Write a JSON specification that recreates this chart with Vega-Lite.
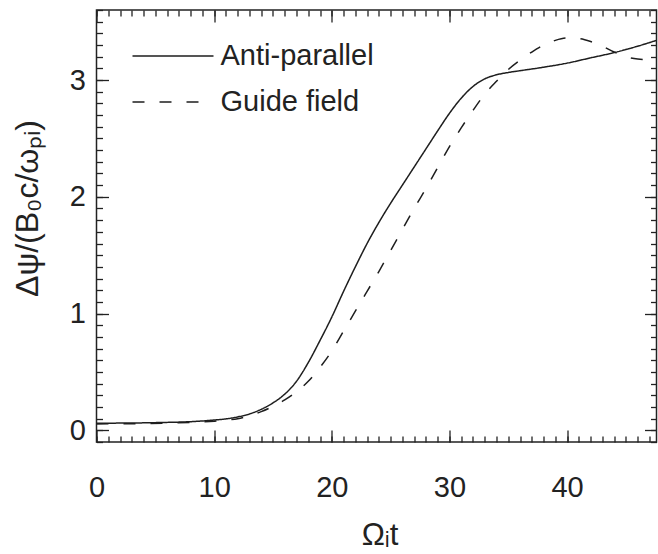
{
  "$schema": "https://vega.github.io/schema/vega-lite/v6.json",
  "width": 560,
  "height": 432,
  "autosize": {"type": "none"},
  "padding": {"left": 96.5, "top": 10, "right": 1.5, "bottom": 112},
  "background": "white",
  "config": {
    "font": "Liberation Sans",
    "view": {"stroke": "#222", "strokeWidth": 1.5},
    "axis": {
      "domain": false,
      "grid": false,
      "tickColor": "#222",
      "tickWidth": 1.3,
      "labelColor": "#222",
      "labelFont": "Liberation Sans",
      "labelFontSize": 29,
      "titleFont": "Liberation Sans",
      "titleFontWeight": "normal",
      "titleColor": "#222"
    }
  },
  "data": {
    "values": [
      {"t": 0, "v": 0.060, "series": "Anti-parallel"},
      {"t": 2, "v": 0.062, "series": "Anti-parallel"},
      {"t": 4, "v": 0.064, "series": "Anti-parallel"},
      {"t": 6, "v": 0.068, "series": "Anti-parallel"},
      {"t": 8, "v": 0.074, "series": "Anti-parallel"},
      {"t": 10, "v": 0.088, "series": "Anti-parallel"},
      {"t": 11, "v": 0.098, "series": "Anti-parallel"},
      {"t": 12, "v": 0.115, "series": "Anti-parallel"},
      {"t": 13, "v": 0.14, "series": "Anti-parallel"},
      {"t": 14, "v": 0.18, "series": "Anti-parallel"},
      {"t": 15, "v": 0.235, "series": "Anti-parallel"},
      {"t": 16, "v": 0.31, "series": "Anti-parallel"},
      {"t": 17, "v": 0.42, "series": "Anti-parallel"},
      {"t": 18, "v": 0.58, "series": "Anti-parallel"},
      {"t": 19, "v": 0.77, "series": "Anti-parallel"},
      {"t": 20, "v": 0.97, "series": "Anti-parallel"},
      {"t": 21, "v": 1.19, "series": "Anti-parallel"},
      {"t": 22, "v": 1.40, "series": "Anti-parallel"},
      {"t": 23, "v": 1.60, "series": "Anti-parallel"},
      {"t": 24, "v": 1.78, "series": "Anti-parallel"},
      {"t": 25, "v": 1.945, "series": "Anti-parallel"},
      {"t": 26, "v": 2.10, "series": "Anti-parallel"},
      {"t": 27, "v": 2.255, "series": "Anti-parallel"},
      {"t": 28, "v": 2.41, "series": "Anti-parallel"},
      {"t": 29, "v": 2.565, "series": "Anti-parallel"},
      {"t": 30, "v": 2.715, "series": "Anti-parallel"},
      {"t": 31, "v": 2.845, "series": "Anti-parallel"},
      {"t": 32, "v": 2.945, "series": "Anti-parallel"},
      {"t": 33, "v": 3.01, "series": "Anti-parallel"},
      {"t": 34, "v": 3.045, "series": "Anti-parallel"},
      {"t": 35, "v": 3.065, "series": "Anti-parallel"},
      {"t": 36, "v": 3.08, "series": "Anti-parallel"},
      {"t": 38, "v": 3.11, "series": "Anti-parallel"},
      {"t": 40, "v": 3.145, "series": "Anti-parallel"},
      {"t": 42, "v": 3.19, "series": "Anti-parallel"},
      {"t": 44, "v": 3.235, "series": "Anti-parallel"},
      {"t": 46, "v": 3.29, "series": "Anti-parallel"},
      {"t": 47.6, "v": 3.34, "series": "Anti-parallel"},
      {"t": 0, "v": 0.055, "series": "Guide field"},
      {"t": 2, "v": 0.056, "series": "Guide field"},
      {"t": 4, "v": 0.058, "series": "Guide field"},
      {"t": 6, "v": 0.062, "series": "Guide field"},
      {"t": 8, "v": 0.068, "series": "Guide field"},
      {"t": 10, "v": 0.078, "series": "Guide field"},
      {"t": 11, "v": 0.088, "series": "Guide field"},
      {"t": 12, "v": 0.10, "series": "Guide field"},
      {"t": 13, "v": 0.125, "series": "Guide field"},
      {"t": 14, "v": 0.16, "series": "Guide field"},
      {"t": 15, "v": 0.205, "series": "Guide field"},
      {"t": 16, "v": 0.26, "series": "Guide field"},
      {"t": 17, "v": 0.33, "series": "Guide field"},
      {"t": 18, "v": 0.42, "series": "Guide field"},
      {"t": 19, "v": 0.54, "series": "Guide field"},
      {"t": 20, "v": 0.68, "series": "Guide field"},
      {"t": 21, "v": 0.85, "series": "Guide field"},
      {"t": 22, "v": 1.02, "series": "Guide field"},
      {"t": 23, "v": 1.19, "series": "Guide field"},
      {"t": 24, "v": 1.36, "series": "Guide field"},
      {"t": 25, "v": 1.54, "series": "Guide field"},
      {"t": 26, "v": 1.72, "series": "Guide field"},
      {"t": 27, "v": 1.90, "series": "Guide field"},
      {"t": 28, "v": 2.07, "series": "Guide field"},
      {"t": 29, "v": 2.25, "series": "Guide field"},
      {"t": 30, "v": 2.43, "series": "Guide field"},
      {"t": 31, "v": 2.59, "series": "Guide field"},
      {"t": 32, "v": 2.74, "series": "Guide field"},
      {"t": 33, "v": 2.88, "series": "Guide field"},
      {"t": 34, "v": 2.99, "series": "Guide field"},
      {"t": 35, "v": 3.09, "series": "Guide field"},
      {"t": 36, "v": 3.17, "series": "Guide field"},
      {"t": 37, "v": 3.24, "series": "Guide field"},
      {"t": 38, "v": 3.30, "series": "Guide field"},
      {"t": 39, "v": 3.34, "series": "Guide field"},
      {"t": 40, "v": 3.36, "series": "Guide field"},
      {"t": 41, "v": 3.355, "series": "Guide field"},
      {"t": 42, "v": 3.33, "series": "Guide field"},
      {"t": 43, "v": 3.29, "series": "Guide field"},
      {"t": 44, "v": 3.24, "series": "Guide field"},
      {"t": 45, "v": 3.20, "series": "Guide field"},
      {"t": 46, "v": 3.18, "series": "Guide field"},
      {"t": 47.6, "v": 3.17, "series": "Guide field"}
    ]
  },
  "resolve": {"axis": {"x": "independent", "y": "independent"}},
  "layer": [
    {
      "mark": {"type": "line", "interpolate": "monotone", "color": "#1e1e1e", "strokeWidth": 1.5},
      "encoding": {
        "x": {
          "field": "t", "type": "quantitative",
          "scale": {"domain": [0, 47.6], "nice": false, "zero": false},
          "axis": {
            "orient": "bottom",
            "values": [0, 10, 20, 30, 40],
            "tickSize": -12,
            "labelPadding": 43,
            "labelFlush": false,
            "title": "Ωᵢt",
            "titleFontSize": 31,
            "titleX": 283,
            "titleY": 102,
            "titleAlign": "center",
            "titleBaseline": "alphabetic"
          }
        },
        "y": {
          "field": "v", "type": "quantitative",
          "scale": {"domain": [-0.1, 3.6], "nice": false, "zero": false},
          "axis": {
            "orient": "left",
            "values": [0, 1, 2, 3],
            "tickSize": -12,
            "labelPadding": 23,
            "labelFlush": false,
            "title": "Δψ/(B₀c/ωₚᵢ)",
            "titleFontSize": 32,
            "titleAngle": -90,
            "titleX": -69,
            "titleY": 198,
            "titleAlign": "center",
            "titleBaseline": "middle"
          }
        },
        "strokeDash": {
          "field": "series", "type": "nominal",
          "scale": {"domain": ["Anti-parallel", "Guide field"], "range": [[1, 0], [12, 15]]},
          "legend": {
            "orient": "none",
            "legendX": 35,
            "legendY": 23,
            "title": null,
            "padding": 0,
            "symbolType": "stroke",
            "symbolSize": 6561,
            "symbolStrokeWidth": 1.5,
            "symbolStrokeColor": "#1e1e1e",
            "labelFont": "Liberation Sans",
            "labelFontSize": 29,
            "labelColor": "#222",
            "labelOffset": 6,
            "clipHeight": 46,
            "rowPadding": 0
          }
        }
      }
    },
    {
      "mark": {"type": "line", "opacity": 0},
      "encoding": {
        "x": {
          "field": "t", "type": "quantitative",
          "axis": {
            "orient": "bottom",
            "values": [0,1,2,3,4,5,6,7,8,9,10,11,12,13,14,15,16,17,18,19,20,21,22,23,24,25,26,27,28,29,30,31,32,33,34,35,36,37,38,39,40,41,42,43,44,45,46,47],
            "tickSize": -6, "labels": false, "title": null
          }
        },
        "y": {
          "field": "v", "type": "quantitative",
          "axis": {
            "orient": "left",
            "values": [-0.1,0,0.1,0.2,0.3,0.4,0.5,0.6,0.7,0.8,0.9,1,1.1,1.2,1.3,1.4,1.5,1.6,1.7,1.8,1.9,2,2.1,2.2,2.3,2.4,2.5,2.6,2.7,2.8,2.9,3,3.1,3.2,3.3,3.4,3.5,3.6],
            "tickSize": -6, "labels": false, "title": null
          }
        }
      }
    },
    {
      "mark": {"type": "line", "opacity": 0},
      "encoding": {
        "x": {
          "field": "t", "type": "quantitative",
          "axis": {"orient": "top", "values": [0, 10, 20, 30, 40], "tickSize": -12, "labels": false, "title": null}
        },
        "y": {
          "field": "v", "type": "quantitative",
          "axis": {"orient": "right", "values": [0, 1, 2, 3], "tickSize": -12, "labels": false, "title": null}
        }
      }
    },
    {
      "mark": {"type": "line", "opacity": 0},
      "encoding": {
        "x": {
          "field": "t", "type": "quantitative",
          "axis": {
            "orient": "top",
            "values": [0,1,2,3,4,5,6,7,8,9,10,11,12,13,14,15,16,17,18,19,20,21,22,23,24,25,26,27,28,29,30,31,32,33,34,35,36,37,38,39,40,41,42,43,44,45,46,47],
            "tickSize": -6, "labels": false, "title": null
          }
        },
        "y": {
          "field": "v", "type": "quantitative",
          "axis": {
            "orient": "right",
            "values": [-0.1,0,0.1,0.2,0.3,0.4,0.5,0.6,0.7,0.8,0.9,1,1.1,1.2,1.3,1.4,1.5,1.6,1.7,1.8,1.9,2,2.1,2.2,2.3,2.4,2.5,2.6,2.7,2.8,2.9,3,3.1,3.2,3.3,3.4,3.5,3.6],
            "tickSize": -6, "labels": false, "title": null
          }
        }
      }
    }
  ]
}
